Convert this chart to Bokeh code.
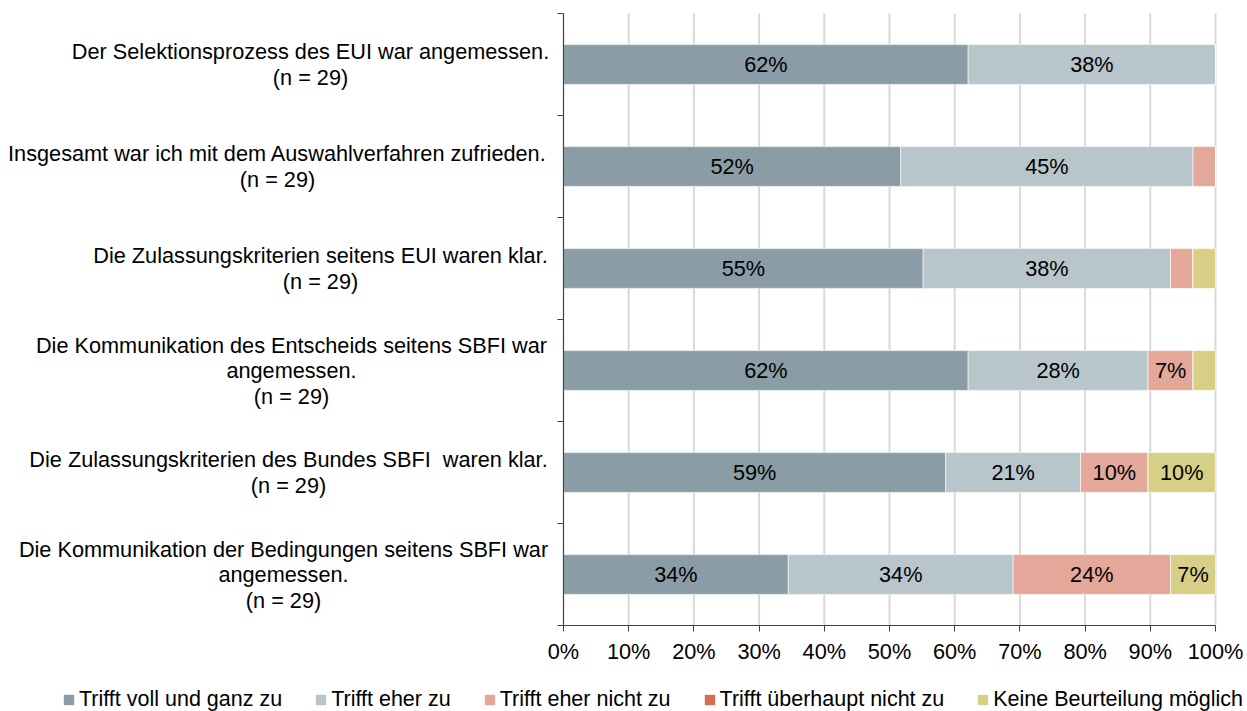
from bokeh.plotting import figure
from bokeh.models import FixedTicker, Legend, LegendItem, ColumnDataSource, Range1d, LinearAxis
from bokeh.embed import file_html
from bokeh.resources import INLINE
from bokeh.core.properties import value

questions = [
    ["Der Selektionsprozess des EUI war angemessen.", "(n = 29)"],
    ["Insgesamt war ich mit dem Auswahlverfahren zufrieden.", "(n = 29)"],
    ["Die Zulassungskriterien seitens EUI waren klar.", "(n = 29)"],
    ["Die Kommunikation des Entscheids seitens SBFI war", "angemessen.", "(n = 29)"],
    ["Die Zulassungskriterien des Bundes SBFI \u00a0waren klar.", "(n = 29)"],
    ["Die Kommunikation der Bedingungen seitens SBFI war", "angemessen.", "(n = 29)"],
]
series_names = [
    "Trifft voll und ganz zu",
    "Trifft eher zu",
    "Trifft eher nicht zu",
    "Trifft überhaupt nicht zu",
    "Keine Beurteilung möglich",
]
voll = [62.07, 51.72, 55.17, 62.07, 58.62, 34.48]
eher = [37.93, 44.83, 37.93, 27.59, 20.69, 34.48]
eher_nicht = [0.0, 3.45, 3.45, 6.90, 10.34, 24.14]
ueberhaupt_nicht = [0.0, 0.0, 0.0, 0.0, 0.0, 0.0]
keine = [0.0, 0.0, 3.45, 3.45, 10.34, 6.90]
colors = ["#8A9DA6", "#B8C5CA", "#E3A899", "#D5704F", "#D8CF86"]
x_ticks = [0, 10, 20, 30, 40, 50, 60, 70, 80, 90, 100]

# ---- layout (pixels) ----
W, H = 1247, 711
AX_LEFT, AX_RIGHT, AX_TOP, AX_BOTTOM = 563, 1215, 13, 625
# horizontal centre of each centred category label block, px relative to the axis
label_centre_offsets = [-253, -286, -243, -272, -275, -280]
FONT = "Liberation Sans"
FS = "21.7px"
LEGEND_FS = "21.5px"
LINE_H = 25.5

series = [voll, eher, eher_nicht, ueberhaupt_nicht, keine]
n = len(questions)
ypos = [n - 0.5 - i for i in range(n)]

px_x = (AX_RIGHT - AX_LEFT) / 100.0
px_y = (AX_BOTTOM - AX_TOP) / n
x_range = Range1d(-AX_LEFT / px_x, 100 + (W - AX_RIGHT) / px_x)
y_range = Range1d(-(H - AX_BOTTOM) / px_y, n + AX_TOP / px_y)

p = figure(width=W, height=H, output_backend="svg", toolbar_location=None,
           x_range=x_range, y_range=y_range,
           x_axis_location=None, y_axis_location=None,
           min_border=0, min_border_left=0, min_border_right=0,
           min_border_top=0, min_border_bottom=0)
p.outline_line_color = None
p.background_fill_color = "white"
p.border_fill_color = "white"
p.xgrid.grid_line_color = None
p.ygrid.grid_line_color = None

# vertical grid lines within the plot area
p.segment(x0=x_ticks, y0=[0] * len(x_ticks), x1=x_ticks, y1=[n] * len(x_ticks),
          line_color="#D9D9D9", line_width=2)

left = [0.0] * n
for vals, col, name in zip(series, colors, series_names):
    right = [l + v for l, v in zip(left, vals)]
    src = ColumnDataSource(dict(y=ypos, left=left, right=right))
    p.hbar(y="y", left="left", right="right", height=0.39, source=src,
           fill_color=col, line_color="white", line_width=0.6)
    lx, ly, lt = [], [], []
    for l, v, y in zip(left, vals, ypos):
        if v >= 5:
            lx.append(l + v / 2)
            ly.append(y)
            lt.append(f"{round(v)}%")
    if lx:
        p.text(x=lx, y=ly, text=lt, text_align="center", text_baseline="middle",
               text_font=value(FONT), text_font_size=FS, text_color="black")
    left = right

# legend proxies: zero-area quads (legend draws a filled square)
legend_renderers = []
for col, name in zip(colors, series_names):
    lr = p.quad(left=[0], right=[0], top=[0], bottom=[0], fill_color=col, line_color=None)
    legend_renderers.append((name, lr))

# category labels: centred multi-line blocks left of the axis
for lines, y, cx in zip(questions, ypos, label_centre_offsets):
    k = len(lines)
    offs = [(j - (k - 1) / 2) * LINE_H for j in range(k)]
    p.text(x=[0] * k, y=[y] * k, text=lines, x_offset=cx, y_offset=offs,
           text_align="center", text_baseline="middle",
           text_font=value(FONT), text_font_size=FS, text_color="black")

# x axis at y = 0
xaxis = LinearAxis(fixed_location=0, bounds=(0, 100), ticker=FixedTicker(ticks=x_ticks))
xaxis.major_label_overrides = {t: f"{t}%" for t in x_ticks}
xaxis.major_label_text_font = FONT
xaxis.major_label_text_font_size = FS
xaxis.major_label_text_color = "black"
xaxis.axis_line_color = "#404040"
xaxis.major_tick_line_color = "#404040"
xaxis.major_tick_out = 6
xaxis.major_tick_in = 0
xaxis.minor_tick_line_color = None
xaxis.major_label_standoff = 7
p.add_layout(xaxis, "below")

# y axis at x = 0, ticks at category boundaries
yaxis = LinearAxis(fixed_location=0, bounds=(0, n),
                   ticker=FixedTicker(ticks=ypos, minor_ticks=list(range(n + 1))))
yaxis.major_label_overrides = {y: "" for y in ypos}
yaxis.major_label_text_font_size = "1px"
yaxis.major_tick_line_color = None
yaxis.minor_tick_line_color = "#404040"
yaxis.minor_tick_out = 6
yaxis.minor_tick_in = 0
yaxis.axis_line_color = "#404040"
p.add_layout(yaxis, "left")

legend = Legend(items=[LegendItem(label=nm, renderers=[r]) for nm, r in legend_renderers],
                orientation="horizontal", location=(62, -1),
                label_text_font=FONT, label_text_font_size=LEGEND_FS, label_text_color="black",
                glyph_width=13, glyph_height=13, spacing=32, label_standoff=4,
                border_line_color=None, background_fill_alpha=0, padding=0, margin=0)
p.add_layout(legend)

open("out.html", "w").write(file_html(p, INLINE))
